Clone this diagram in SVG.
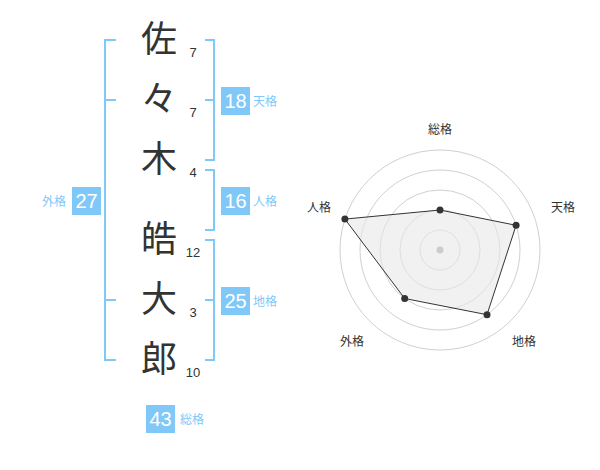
<svg xmlns="http://www.w3.org/2000/svg" width="600" height="470" viewBox="0 0 600 470">
<style>
.ch{font-family:"Noto Sans CJK JP","Noto Sans CJK SC",sans-serif;font-size:36px;fill:#333;text-anchor:middle}
.num{font-family:"Liberation Sans",Arial,sans-serif;font-size:13px;fill:#333;text-anchor:middle}
.br{fill:none;stroke:#80c8f8;stroke-width:2}
.box{fill:#80c8f8}
.bn{font-family:"Liberation Sans",Arial,sans-serif;font-size:20px;fill:#fff;text-anchor:middle}
.bl{font-family:"Noto Sans CJK JP","Noto Sans CJK SC",sans-serif;font-size:12px;fill:#80c8f8}
.rg{fill:none;stroke:#d0d0d0;stroke-width:1}
.rl{font-family:"Noto Sans CJK JP","Noto Sans CJK SC",sans-serif;font-size:12px;fill:#333;text-anchor:middle}
.dot{fill:#333}
</style>
<rect width="600" height="470" fill="#fff"/>
<g id="connectors">
<path class="br" d="M116,40H105V360H116M105,100H116M105,300H116"/>
<path class="br" d="M205,40H214V160H205M205,100H214"/>
<path class="br" d="M205,170H214V230H205"/>
<path class="br" d="M205,240H214V360H205M205,300H214"/>
</g>
<g id="name">
<text class="ch" x="159" y="52">佐</text>
<text class="ch" x="159" y="112">々</text>
<text class="ch" x="159" y="172">木</text>
<text class="ch" x="159" y="252">皓</text>
<text class="ch" x="159" y="312">大</text>
<text class="ch" x="159" y="372">郎</text>
<text class="num" x="193" y="57">7</text>
<text class="num" x="193" y="117">7</text>
<text class="num" x="193" y="177">4</text>
<text class="num" x="193" y="257">12</text>
<text class="num" x="193" y="317">3</text>
<text class="num" x="193" y="377">10</text>
</g>
<g id="tenkaku">
<rect class="box" x="221" y="87" width="29" height="28"/>
<text class="bn" x="235.5" y="108">18</text>
<text class="bl" x="253" y="106">天格</text>
</g>
<g id="jinkaku">
<rect class="box" x="221" y="187" width="29" height="28"/>
<text class="bn" x="235.5" y="208">16</text>
<text class="bl" x="253" y="206">人格</text>
</g>
<g id="chikaku">
<rect class="box" x="221" y="287" width="29" height="28"/>
<text class="bn" x="235.5" y="308">25</text>
<text class="bl" x="253" y="306">地格</text>
</g>
<g id="gaikaku">
<rect class="box" x="72" y="187" width="29" height="28"/>
<text class="bn" x="86.5" y="208">27</text>
<text class="bl" x="66" y="206" text-anchor="end">外格</text>
</g>
<g id="soukaku">
<rect class="box" x="146" y="405" width="29" height="28"/>
<text class="bn" x="160.5" y="426">43</text>
<text class="bl" x="180" y="424">総格</text>
</g>
<g id="radar">
<circle class="rg" cx="440" cy="250" r="20"/>
<circle class="rg" cx="440" cy="250" r="40"/>
<circle class="rg" cx="440" cy="250" r="60"/>
<circle class="rg" cx="440" cy="250" r="80"/>
<circle class="rg" cx="440" cy="250" r="100"/>
<polygon points="440,210 516.1,225.3 487,314.7 404.7,298.5 344.9,219.1" fill="#e8e8e8" fill-opacity="0.6" stroke="#333" stroke-width="1"/>
<circle cx="440" cy="250" r="3.5" fill="#ccc"/>
<circle class="dot" cx="440" cy="210" r="3.5"/>
<circle class="dot" cx="516.1" cy="225.3" r="3.5"/>
<circle class="dot" cx="487" cy="314.7" r="3.5"/>
<circle class="dot" cx="404.7" cy="298.5" r="3.5"/>
<circle class="dot" cx="344.9" cy="219.1" r="3.5"/>
<text class="rl" x="440" y="134">総格</text>
<text class="rl" x="563" y="212">天格</text>
<text class="rl" x="524" y="346">地格</text>
<text class="rl" x="352" y="346">外格</text>
<text class="rl" x="319" y="212">人格</text>
</g>
</svg>
